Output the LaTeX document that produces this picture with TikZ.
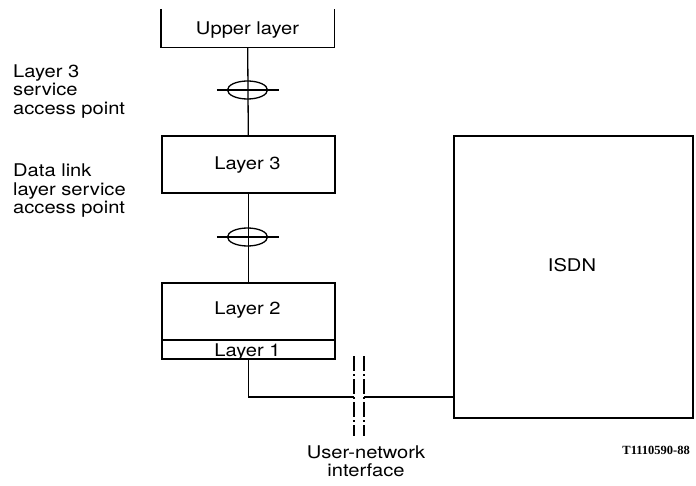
\documentclass[tikz,border=0pt]{standalone}
\usepackage{fontspec}
\setmainfont{TeX Gyre Heros}[FakeStretch=1.15]
\newfontfamily\codefont{Liberation Serif}
\usetikzlibrary{shapes.geometric}
\begin{document}
\begin{tikzpicture}[x=1pt,y=-1pt,
  frame/.style={draw, line width=1.6pt, minimum width=173pt, inner sep=0pt, anchor=north west},
  wire/.style={line width=1.3pt},
  txt/.style={font=\fontsize{17.5}{18.5}\selectfont, inner sep=0pt},
  sap/.style={draw, ellipse, line width=1.3pt, minimum width=40pt, minimum height=18pt, inner sep=0pt},
  iface/.style={line width=1.8pt, dash pattern=on 15pt off 3pt on 2pt off 3pt}]
\useasboundingbox (0,0) rectangle (696,486);
% boxes
\node[inner sep=0pt, minimum width=173pt, minimum height=38pt, anchor=north west] (upper) at (161,9) {};
\draw[line width=1.6pt] (upper.north west) -- (upper.south west) -- (upper.south east) -- (upper.north east);
\node[frame, minimum height=57pt] (l3) at (161,135) {};
\node[frame, minimum height=57pt] (l2) at (161,282) {};
\node[frame, minimum height=19pt] (l1) at (161,339) {};
\node[frame, minimum width=239pt, minimum height=282pt] (isdn) at (453,135) {};
% texts in boxes
\node[txt, anchor=base] (uppert) at (247.5,35) {Upper layer};
\node[txt, anchor=base] (l3t) at (247.5,170) {Layer 3};
\node[txt, anchor=base] (l2t) at (247.5,315) {Layer 2};
\node[txt, anchor=base] (l1t) at (247.5,356) {Layer 1};
\node[txt, anchor=base] (isdnt) at (572,272) {ISDN};
% service access points
\node[sap] (sap1) at (247.5,90) {};
\node[sap] (sap2) at (247.5,237) {};
\draw[wire] (upper.south) -- (l3.north);
\draw[wire] (l3.south) -- (l2.north);
\draw[wire] ([xshift=-10pt]sap1.west) -- ([xshift=11pt]sap1.east);
\draw[wire] ([xshift=-10pt]sap2.west) -- ([xshift=11pt]sap2.east);
% connector to ISDN
\coordinate (ja) at (354,397);
\coordinate (jb) at (364,397);
\draw[wire] (l1.south) |- (ja);
\draw[wire] (jb) -- (isdn.west |- jb);
% user-network interface
\coordinate (d1t) at (354,356);
\coordinate (d1b) at (354,436);
\coordinate (d2t) at (364,356);
\coordinate (d2b) at (364,436);
\draw[iface] (d1t) -- (d1b);
\draw[iface] (d2t) -- (d2b);
% labels
\node[txt, align=left, anchor=north west] (lab1) at (13,64.5) {Layer 3\\service\\access point};
\node[txt, align=left, anchor=north west] (lab2) at (13,164) {Data link\\layer service\\access point};
\node[txt, align=center, anchor=north] (labif) at (366,445.5) {User-network\\interface};
\node[font={\codefont\bfseries\fontsize{12.5}{13}\selectfont}, anchor=base east, inner sep=0pt] (code) at (690,454) {T1110590-88};
\end{tikzpicture}
\end{document}
